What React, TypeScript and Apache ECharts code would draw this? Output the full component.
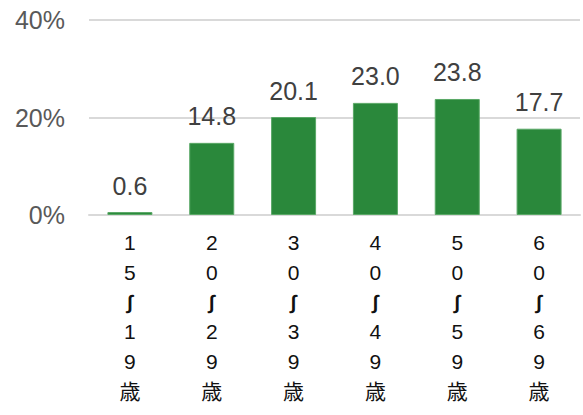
import React, { useEffect, useRef } from "react";
import * as echarts from "echarts";

const categories = ["15～19歳", "20～29歳", "30～39歳", "40～49歳", "50～59歳", "60～69歳"];
const values = [0.6, 14.8, 20.1, 23.0, 23.8, 17.7];
const yTicks = [0, 20, 40];

const verticalize = (s: string) =>
  s.split("").map((c) => (c === "～" ? "{t|∫}" : c)).join("\n");

export default function App() {
  const ref = useRef<HTMLDivElement>(null);
  useEffect(() => {
    const chart = echarts.init(ref.current!, null, { renderer: "svg" });
    chart.setOption({
      animation: false,
      grid: { left: 89, right: 3, top: 20, bottom: 200, containLabel: false },
      xAxis: {
        type: "category",
        data: categories,
        axisLine: { show: true, lineStyle: { color: "#d9d9d9", width: 2 } },
        axisTick: { show: false },
        axisLabel: {
          interval: 0,
          margin: 12,
          formatter: (v: string) => verticalize(v),
          fontSize: 21,
          lineHeight: 30.4,
          color: "#111",
          fontFamily: "'Liberation Sans', 'Noto Sans CJK JP', sans-serif",
          rich: {
            t: {
              fontSize: 20,
              lineHeight: 28,
              color: "#111",
              fontWeight: "bold",
              fontFamily: "'Liberation Sans', sans-serif",
            },
          },
        },
      },
      yAxis: {
        type: "value",
        min: yTicks[0],
        max: yTicks[yTicks.length - 1],
        interval: 20,
        axisLine: { show: false },
        axisTick: { show: false },
        splitLine: { lineStyle: { color: "#d9d9d9", width: 2 } },
        axisLabel: {
          margin: 24,
          formatter: "{value}%",
          fontSize: 25,
          color: "#595959",
          fontFamily: "'Liberation Sans', sans-serif",
        },
      },
      series: [
        {
          type: "bar",
          data: values,
          barWidth: "55%",
          itemStyle: { color: "#2a883b", borderColor: "#5aa866", borderWidth: 1 },
          label: {
            show: true,
            position: "top",
            distance: 14,
            formatter: (p: any) => p.value.toFixed(1),
            fontSize: 25,
            color: "#404040",
            fontFamily: "'Liberation Sans', sans-serif",
          },
        },
      ],
    });
    return () => chart.dispose();
  }, []);
  return (
    <div
      ref={ref}
      style={{ position: "fixed", left: 0, top: 0, width: 583, height: 415, background: "#fff" }}
    />
  );
}
